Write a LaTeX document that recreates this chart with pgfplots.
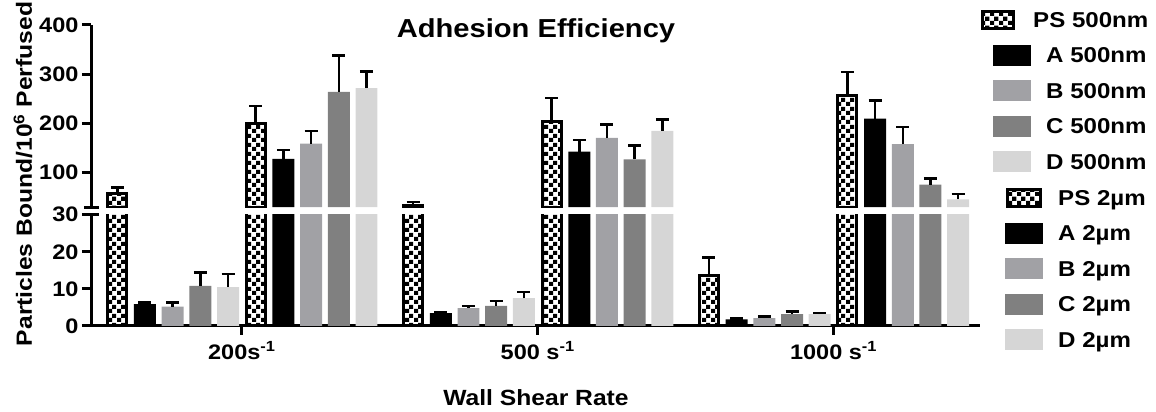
\documentclass[border=0pt]{standalone}
\usepackage{pgfplots}
\pgfplotsset{compat=1.18}
\usepackage{fontspec}
\setmainfont{Liberation Sans}[FakeStretch=1.12]
\usetikzlibrary{patterns}
\pgfdeclarepatternformonly{bigcheck}{\pgfpointorigin}{\pgfqpoint{9pt}{9pt}}{\pgfqpoint{9pt}{9pt}}{%
  \pgfpathrectangle{\pgfpointorigin}{\pgfqpoint{4.5pt}{4.5pt}}%
  \pgfpathrectangle{\pgfqpoint{4.5pt}{4.5pt}}{\pgfqpoint{4.5pt}{4.5pt}}%
  \pgfusepath{fill}}
\definecolor{cA}{HTML}{000000}
\definecolor{cB}{HTML}{A1A1A5}
\definecolor{cC}{HTML}{808080}
\definecolor{cD}{HTML}{D6D6D6}
\newcommand\F[1]{\fontsize{#1}{#1}\selectfont\bfseries}
\pgfplotsset{
  brk/.style={scale only axis, width=889pt, xmin=-0.51, xmax=2.495,
    axis line style={line width=3pt, black},
    tick style={line width=3pt, black}, major tick length=9pt, tick align=outside,
    minor tick num=0,
    tick label style={font=\F{21}}, /pgf/number format/assume math mode=true,
    clip=true},
  ps/.style={ybar, bar shift=0pt, bar width=0.0642, pattern=bigcheck, pattern color=black, draw=black, line width=3pt},
  sb/.style={ybar, bar shift=0pt, bar width=0.0743, fill=#1, draw=none},
  eb/.style={error bars/.cd, y dir=plus, y explicit, error mark=|,
    error bar style={line width=2.5pt, black},
    error mark options={line width=2.5pt, black, mark size=6.5pt}},
}
\begin{document}
\begin{tikzpicture}
\path[use as bounding box] (0pt,0pt) rectangle (1156pt,412pt);
% lower segment 0-30
\begin{axis}[brk, at={(91pt,86pt)}, anchor=south west, height=111.3pt,
  ymin=0, ymax=30, ytick={0,10,20,30},
  axis x line*=bottom, axis y line*=left,
  xtick={0,1,2}, xticklabels={200s\textsuperscript{-1}, 500 s\textsuperscript{-1}, 1000 s\textsuperscript{-1}},
  xticklabel style={font=\F{21}, yshift=-3pt}]
% 2 um particles
\addplot[ps, eb] coordinates {(-0.4212,57) +- (0,13) (0.5788,33) +- (0,8) (1.5788,13.7) +- (0,4.8)};
\addplot[sb=cA, eb] coordinates {(-0.3276,5.9) +- (0,0.4) (0.6724,3.5) +- (0,0.3) (1.6724,1.8) +- (0,0.2)};
\addplot[sb=cB, eb] coordinates {(-0.234,5.2) +- (0,1.1) (0.766,4.8) +- (0,0.6) (1.766,2.1) +- (0,0.4)};
\addplot[sb=cC, eb] coordinates {(-0.1404,10.8) +- (0,3.6) (0.8596,5.4) +- (0,1.4) (1.8596,3.2) +- (0,0.7)};
\addplot[sb=cD, eb] coordinates {(-0.0468,10.5) +- (0,3.5) (0.9532,7.5) +- (0,1.6) (1.9532,3.2) +- (0,0.3)};
% 500 nm particles
\addplot[ps] coordinates {(0.0468,200) (1.0468,205) (2.0468,256)};
\addplot[sb=cA] coordinates {(0.1404,128) (1.1404,143) (2.1404,210)};
\addplot[sb=cB] coordinates {(0.234,159) (1.234,171) (2.234,158)};
\addplot[sb=cC] coordinates {(0.3276,264) (1.3276,127) (2.3276,76)};
\addplot[sb=cD] coordinates {(0.4212,272) (1.4212,185) (2.4212,46)};
\end{axis}
% upper segment 30-400
\begin{axis}[brk, at={(91pt,204.8pt)}, anchor=south west, height=182.2pt,
  ymin=30, ymax=400, ytick={100,200,300,400},
  axis y line*=left, axis x line=none, xtick=\empty]
\addplot[ps, eb] coordinates {(-0.4212,57) +- (0,13) (0.5788,33) +- (0,8)};
\addplot[ps, eb] coordinates {(0.0468,200) +- (0,35) (1.0468,205) +- (0,47) (2.0468,256) +- (0,49)};
\addplot[sb=cA, eb] coordinates {(0.1404,128) +- (0,18) (1.1404,143) +- (0,23) (2.1404,210) +- (0,37)};
\addplot[sb=cB, eb] coordinates {(0.234,159) +- (0,26) (1.234,171) +- (0,27) (2.234,158) +- (0,35)};
\addplot[sb=cC, eb] coordinates {(0.3276,264) +- (0,74) (1.3276,127) +- (0,28) (2.3276,76) +- (0,12)};
\addplot[sb=cD, eb] coordinates {(0.4212,272) +- (0,34) (1.4212,185) +- (0,23) (2.4212,46) +- (0,11)};
\end{axis}
% break marks
\draw[line width=3pt] (84pt,197.3pt) -- (99pt,197.3pt);
\draw[line width=3pt] (84pt,204.8pt) -- (99pt,204.8pt);
% titles and labels
\node[anchor=base, font=\F{26}] at (536pt,374pt) {Adhesion Efficiency};
\node[rotate=90, font=\F{22}] at (23pt,238pt) {Particles Bound/10\textsuperscript{6} Perfused};
\node[font=\F{22}] at (536pt,14pt) {Wall Shear Rate};
% legend
\draw[line width=3pt, pattern=bigcheck, pattern color=black] (982.5pt,383.5pt) rectangle (1013.5pt,400.5pt);
\node[anchor=base west, font=\F{21.5}, inner sep=0pt] at (1033pt,384.5pt) {PS 500nm};
\fill[cA] (993pt,346.1pt) rectangle (1031pt,367.1pt);
\node[anchor=base west, font=\F{21.5}, inner sep=0pt] at (1046pt,349.1pt) {A 500nm};
\fill[cB] (993pt,310.7pt) rectangle (1031pt,331.7pt);
\node[anchor=base west, font=\F{21.5}, inner sep=0pt] at (1046pt,313.7pt) {B 500nm};
\fill[cC] (993pt,275.3pt) rectangle (1031pt,296.3pt);
\node[anchor=base west, font=\F{21.5}, inner sep=0pt] at (1046pt,278.3pt) {C 500nm};
\fill[cD] (993pt,239.9pt) rectangle (1031pt,260.9pt);
\node[anchor=base west, font=\F{21.5}, inner sep=0pt] at (1046pt,242.9pt) {D 500nm};
\draw[line width=3pt, pattern=bigcheck, pattern color=black] (1007.5pt,205.5pt) rectangle (1040.5pt,222.5pt);
\node[anchor=base west, font=\F{21.5}, inner sep=0pt] at (1058pt,206.5pt) {PS 2µm};
\fill[cA] (1005pt,168.1pt) rectangle (1043pt,189.1pt);
\node[anchor=base west, font=\F{21.5}, inner sep=0pt] at (1058pt,171.1pt) {A 2µm};
\fill[cB] (1005pt,132.7pt) rectangle (1043pt,153.7pt);
\node[anchor=base west, font=\F{21.5}, inner sep=0pt] at (1058pt,135.7pt) {B 2µm};
\fill[cC] (1005pt,97.3pt) rectangle (1043pt,118.3pt);
\node[anchor=base west, font=\F{21.5}, inner sep=0pt] at (1058pt,100.3pt) {C 2µm};
\fill[cD] (1005pt,61.9pt) rectangle (1043pt,82.9pt);
\node[anchor=base west, font=\F{21.5}, inner sep=0pt] at (1058pt,64.9pt) {D 2µm};
\end{tikzpicture}
\end{document}
